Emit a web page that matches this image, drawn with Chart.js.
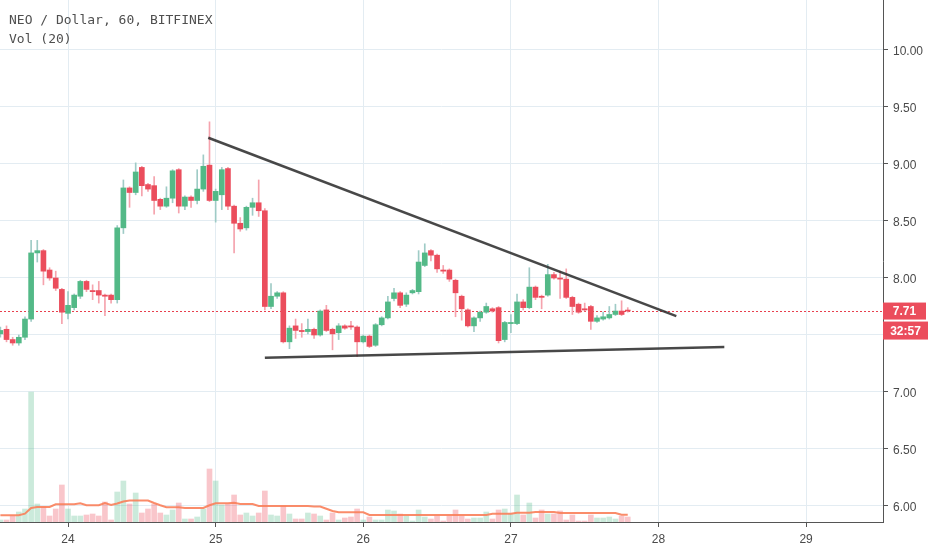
<!DOCTYPE html>
<html>
<head>
<meta charset="utf-8">
<script src="https://cdn.jsdelivr.net/npm/chart.js@4.4.0/dist/chart.umd.min.js"></script>
<style>
  body { margin: 0; background: #fff; }
  #wrap { position: relative; width: 932px; height: 550px; }
  #title { position: absolute; left: 9px; top: 11px; font: 13px 'DejaVu Sans Mono', monospace; color: #4f4f4f; line-height: 18.6px; pointer-events: none; white-space: pre; }
</style>
</head>
<body>
<div id="wrap">
  <canvas id="myChart" width="932" height="550"></canvas>
  <div id="title">NEO / Dollar, 60, BITFINEX
Vol (20)</div>
</div>
<script>
// hourly candles, first one is the 23rd at 13:00 (x axis is hours since 23rd 00:00)
const startHour = 13;

const opens = [
  7.51, 7.55, 7.46, 7.43, 7.48, 7.64, 8.22, 8.24, 8.07, 8.00,
  7.90, 7.69, 7.74, 7.84, 7.97, 7.89, 7.89, 7.85, 7.85, 7.81,
  8.44, 8.79, 8.75, 8.97, 8.82, 8.81, 8.69, 8.63, 8.70, 8.95,
  8.63, 8.71, 8.68, 8.78, 8.99, 8.68, 8.73, 8.96, 8.63, 8.48,
  8.44, 8.62, 8.66, 8.59, 7.75, 7.84, 7.87, 7.44, 7.58, 7.54,
  7.53, 7.55, 7.50, 7.72, 7.55, 7.52, 7.58, 7.58, 7.57, 7.44,
  7.49, 7.41, 7.59, 7.65, 7.82, 7.87, 7.77, 7.87, 7.88, 8.11,
  8.24, 8.20, 8.07, 8.07, 7.98, 7.84, 7.72, 7.58, 7.65, 7.70,
  7.73, 7.74, 7.46, 7.60, 7.60, 7.79, 7.74, 7.92, 7.84, 7.85,
  8.03, 8.00, 7.99, 7.83, 7.77, 7.73, 7.75, 7.62, 7.64, 7.65,
  7.68, 7.71, 7.715
];
const highs = [
  7.57, 7.58, 7.48, 7.50, 7.66, 8.33, 8.33, 8.25, 8.09, 8.06,
  7.91, 7.88, 7.86, 7.98, 7.98, 7.94, 7.97, 7.86, 7.86, 8.46,
  8.86, 8.80, 9.01, 8.98, 8.83, 8.89, 8.70, 8.80, 8.95, 8.96,
  8.72, 8.72, 8.95, 9.08, 9.37, 8.78, 8.97, 8.97, 8.64, 8.53,
  8.63, 8.70, 8.86, 8.61, 7.95, 7.88, 7.88, 7.58, 7.64, 7.60,
  7.64, 7.56, 7.72, 7.76, 7.56, 7.60, 7.59, 7.62, 7.58, 7.50,
  7.50, 7.60, 7.66, 7.84, 7.91, 7.88, 7.87, 7.90, 8.24, 8.30,
  8.25, 8.21, 8.11, 8.08, 7.99, 7.85, 7.73, 7.66, 7.71, 7.78,
  7.74, 7.75, 7.62, 7.68, 7.86, 7.81, 8.09, 7.93, 7.85, 8.12,
  8.05, 8.06, 8.08, 7.84, 7.78, 7.78, 7.76, 7.67, 7.70, 7.75,
  7.77, 7.80, 7.74
];
const lows = [
  7.48, 7.44, 7.41, 7.41, 7.46, 7.62, 8.14, 7.94, 7.98, 7.89,
  7.60, 7.64, 7.72, 7.82, 7.88, 7.81, 7.78, 7.67, 7.78, 7.78,
  8.39, 8.62, 8.73, 8.72, 8.76, 8.56, 8.60, 8.62, 8.66, 8.57,
  8.60, 8.62, 8.65, 8.76, 8.67, 8.49, 8.60, 8.60, 8.22, 8.41,
  8.42, 8.55, 8.54, 7.72, 7.73, 7.82, 7.43, 7.38, 7.47, 7.48,
  7.51, 7.47, 7.49, 7.53, 7.37, 7.46, 7.55, 7.55, 7.31, 7.43,
  7.39, 7.40, 7.58, 7.64, 7.80, 7.74, 7.75, 7.86, 7.86, 8.10,
  8.15, 8.05, 8.04, 7.97, 7.66, 7.63, 7.57, 7.53, 7.62, 7.69,
  7.70, 7.43, 7.44, 7.52, 7.59, 7.72, 7.73, 7.81, 7.73, 7.84,
  7.99, 7.82, 7.82, 7.68, 7.69, 7.71, 7.55, 7.61, 7.63, 7.64,
  7.67, 7.67, 7.70
];
const closes = [
  7.54, 7.46, 7.43, 7.48, 7.64, 8.22, 8.24, 8.06, 8.00, 7.91,
  7.70, 7.76, 7.85, 7.97, 7.90, 7.88, 7.85, 7.84, 7.81, 8.44,
  8.79, 8.75, 8.93, 8.81, 8.78, 8.68, 8.63, 8.70, 8.94, 8.63,
  8.71, 8.68, 8.78, 8.98, 8.68, 8.76, 8.95, 8.63, 8.48, 8.43,
  8.62, 8.66, 8.59, 7.75, 7.84, 7.87, 7.44, 7.56, 7.54, 7.53,
  7.55, 7.50, 7.71, 7.54, 7.51, 7.58, 7.56, 7.57, 7.44, 7.49,
  7.40, 7.59, 7.65, 7.79, 7.87, 7.76, 7.85, 7.89, 8.14, 8.22,
  8.20, 8.08, 8.06, 7.99, 7.87, 7.73, 7.58, 7.65, 7.70, 7.75,
  7.71, 7.45, 7.61, 7.61, 7.79, 7.74, 7.92, 7.83, 7.83, 8.03,
  8.00, 7.99, 7.83, 7.75, 7.70, 7.72, 7.62, 7.65, 7.66, 7.68,
  7.71, 7.68, 7.71
];
const volumes = [
  2, 2, 6, 10, 13, 130, 18, 15, 6, 13,
  37, 13, 6, 6, 7, 8, 6, 20, 2, 30,
  41, 18, 29, 9, 13, 18, 9, 7, 12, 19,
  3, 3, 5, 13, 53, 41, 17, 18, 27, 7,
  9, 6, 9, 31, 7, 6, 16, 8, 3, 3,
  9, 8, 6, 2, 9, 2, 4, 5, 13, 2,
  5, 2, 2, 12, 11, 8, 6, 1, 12, 5,
  3, 6, 1, 6, 12, 6, 3, 4, 4, 10,
  3, 12, 13, 8, 27, 7, 19, 4, 12, 8,
  8, 11, 2, 7, 1, 1, 7, 4, 4, 5,
  3, 6, 5
];
// Vol (20) average line
const volumeMA = [
  6.7, 6.7, 6.7, 6.7, 8.3, 14, 15, 15, 15, 17.7,
  17.7, 17.7, 17.7, 18.7, 16.7, 16.7, 16.7, 19, 17, 18.5,
  20.5, 21.5, 21.5, 21.5, 21.5, 19, 16.7, 14.7, 14.7, 14.7,
  14, 14, 14, 14, 16.7, 18.7, 18.7, 18.7, 19.3, 18,
  18, 18, 16, 16, 16, 16, 16, 16, 16, 16,
  16, 15.5, 15.5, 13.3, 11, 9.7, 9.7, 9.7, 9.7, 9.7,
  7, 7, 7, 7, 7, 7, 7, 7, 7, 7,
  7, 7, 7, 7, 7, 7, 7, 7, 7, 7,
  8.3, 8.3, 8.3, 8.3, 9.3, 9.3, 9.3, 10, 10, 10,
  10, 9, 9, 9, 9, 9, 9, 9, 9, 9,
  9, 7.3, 7.3
];
const dayLabels = ['24', '25', '26', '27', '28', '29'];
const dayHours = [24, 48, 72, 96, 120, 144];
const priceTicks = [6.0, 6.5, 7.0, 7.5, 8.0, 8.5, 9.0, 9.5, 10.0];
const upperTrend = [{x: 46.8, y: 9.23}, {x: 122.9, y: 7.665}];
const lowerTrend = [{x: 56.0, y: 7.30}, {x: 130.7, y: 7.395}];
const countdown = '32:57';

const UP = '#53b987', DOWN = '#eb4d5c';
const UP_WICK = '#9fcbc6', DOWN_WICK = '#f5a3ad';
const UP_VOL = 'rgba(83,185,135,0.3)', DOWN_VOL = 'rgba(235,77,92,0.32)';

const isUp = closes.map((c, i) => c >= opens[i]);
const hours = opens.map((o, i) => startHour + i);

const ctx = document.getElementById('myChart');

const lastPrice = {
  id: 'lastPrice',
  beforeDatasetsDraw(chart) {
    const {ctx, chartArea, scales} = chart;
    const y = Math.round(scales.y.getPixelForValue(closes[closes.length - 1])) + 0.5;
    ctx.save();
    ctx.strokeStyle = '#e8404e';
    ctx.lineWidth = 1;
    ctx.setLineDash([2, 2]);
    ctx.beginPath();
    ctx.moveTo(chartArea.left, y);
    ctx.lineTo(chartArea.right, y);
    ctx.stroke();
    ctx.restore();
  },
  afterDraw(chart) {
    const {ctx, chartArea, scales} = chart;
    const last = closes[closes.length - 1];
    const y = scales.y.getPixelForValue(last);
    const x = chartArea.right;
    ctx.save();
    ctx.fillStyle = DOWN;
    ctx.fillRect(x, y - 8.5, 43, 17);
    ctx.fillRect(x, y + 10.5, 45, 18);
    ctx.fillStyle = '#fff';
    ctx.font = 'bold 12px "Liberation Sans", Arial, sans-serif';
    ctx.textAlign = 'center';
    ctx.textBaseline = 'middle';
    ctx.fillText(last.toFixed(2), x + 21.5, y + 1);
    ctx.fillText(countdown, x + 22.5, y + 20.5);
    ctx.restore();
  }
};

const noPad = s => { s.paddingLeft = 0; s.paddingRight = 0; s.paddingTop = 0; s.paddingBottom = 0; };

const config = {
  type: 'bar',
  data: {
    datasets: [
      {
        type: 'line',
        data: upperTrend,
        borderColor: 'rgba(40,40,40,0.85)',
        borderWidth: 2.5,
        pointRadius: 0,
        yAxisID: 'y',
        order: 0
      },
      {
        type: 'line',
        data: lowerTrend,
        borderColor: 'rgba(40,40,40,0.85)',
        borderWidth: 2.5,
        pointRadius: 0,
        yAxisID: 'y',
        order: 0
      },
      {
        label: 'body',
        data: hours.map((h, i) => ({x: h, y: [opens[i], closes[i]]})),
        backgroundColor: isUp.map(u => u ? UP : DOWN),
        barThickness: 5,
        minBarLength: 1,
        grouped: false,
        yAxisID: 'y',
        order: 1
      },
      {
        label: 'wick',
        data: hours.map((h, i) => ({x: h, y: [lows[i], highs[i]]})),
        backgroundColor: isUp.map(u => u ? UP_WICK : DOWN_WICK),
        barThickness: 1,
        grouped: false,
        yAxisID: 'y',
        order: 2
      },
      {
        type: 'line',
        label: 'Vol MA',
        data: hours.map((h, i) => ({x: h, y: volumeMA[i]})),
        borderColor: 'rgba(250,128,90,0.9)',
        borderWidth: 2,
        pointRadius: 0,
        tension: 0,
        yAxisID: 'y2',
        order: 3
      },
      {
        label: 'Vol',
        data: hours.map((h, i) => ({x: h, y: volumes[i]})),
        backgroundColor: isUp.map(u => u ? UP_VOL : DOWN_VOL),
        barThickness: 5,
        grouped: false,
        yAxisID: 'y2',
        order: 4
      }
    ]
  },
  options: {
    responsive: false,
    animation: false,
    layout: { padding: 0 },
    plugins: { legend: { display: false }, tooltip: { enabled: false } },
    scales: {
      x: {
        type: 'linear',
        offset: false,
        min: 12.94,
        max: 156.5,
        afterBuildTicks: s => { s.ticks = dayHours.map(v => ({value: v})); },
        afterFit: s => { s.height = 28; noPad(s); },
        border: { color: '#555', width: 1 },
        grid: { color: '#e3ecf2', tickColor: '#555', tickLength: 5, offset: false },
        ticks: {
          autoSkip: false,
          maxRotation: 0,
          padding: 5,
          color: '#4a4a4a',
          font: { family: '"Liberation Sans", Arial, sans-serif', size: 12 },
          callback: v => dayLabels[dayHours.indexOf(v)] || ''
        }
      },
      y: {
        position: 'right',
        min: 5.8596,
        max: 10.4386,
        afterBuildTicks: s => { s.ticks = priceTicks.map(v => ({value: v})); },
        afterFit: s => { s.width = 49; noPad(s); },
        border: { color: '#555', width: 1 },
        grid: { color: '#e3ecf2', tickColor: '#555', tickLength: 5 },
        ticks: {
          padding: 5,
          labelOffset: 1.5,
          color: '#4a4a4a',
          font: { family: '"Liberation Sans", Arial, sans-serif', size: 12 },
          callback: v => Math.abs(v - 7.5) < 1e-6 ? '' : v.toFixed(2)
        }
      },
      y2: {
        display: false,
        min: 0,
        max: 522
      }
    }
  },
  plugins: [lastPrice]
};

const myChart = new Chart(ctx, config);
</script>
</body>
</html>
